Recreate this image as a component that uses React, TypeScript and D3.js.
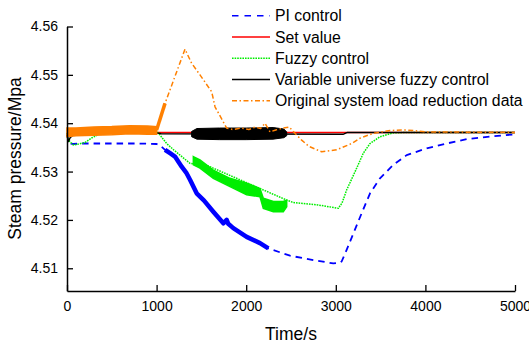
import React, { useEffect, useRef } from "react";
import * as d3 from "d3";

// ---- data (time s, pressure MPa) ----
const X_TICKS = [0, 1000, 2000, 3000, 4000, 5000];
const Y_TICKS = [4.51, 4.52, 4.53, 4.54, 4.55, 4.56];

const SET_VALUE: [number, number][] = [[0, 4.5381], [5000, 4.5381]];

const PI_LINE: [number, number][] = [
  [0, 4.538], [15, 4.5365], [40, 4.5358], [70, 4.5357], [150, 4.5358], [400, 4.5358], [800, 4.5358],
  [1000, 4.5357], [1040, 4.5354], [1094, 4.5345], [1205, 4.5331], [1280, 4.531], [1373, 4.5283],
  [1447, 4.5255], [1633, 4.5217], [1745, 4.5193], [1782, 4.52], [1800, 4.5192], [1856, 4.5183],
  [2005, 4.5165], [2154, 4.5152], [2247, 4.5141], [2489, 4.5126], [2749, 4.5117], [2972, 4.511],
  [3040, 4.5111], [3065, 4.5114], [3121, 4.5138], [3196, 4.5172], [3289, 4.5214], [3382, 4.5255],
  [3493, 4.5286], [3642, 4.5314], [3791, 4.5334], [4014, 4.5348], [4237, 4.5358], [4460, 4.5367],
  [4758, 4.5373], [5000, 4.5377],
];
const PI_BAND: [number, number][] = [
  [1094, 4.5345], [1150, 4.5338], [1205, 4.5331], [1280, 4.531], [1330, 4.5298], [1373, 4.5283],
  [1447, 4.5255], [1530, 4.5240], [1633, 4.5217], [1745, 4.5193], [1782, 4.52], [1800, 4.5192],
  [1856, 4.5183], [2005, 4.5165], [2154, 4.5152], [2247, 4.5141],
];

const FUZZY_LINE: [number, number][] = [
  [0, 4.538], [30, 4.5362], [70, 4.5355], [130, 4.5357], [200, 4.536], [280, 4.537], [368, 4.5378],
  [500, 4.5382], [1000, 4.5384], [1040, 4.5375], [1112, 4.5358], [1190, 4.5345], [1261, 4.5334],
  [1373, 4.5317], [1410, 4.5316], [1447, 4.5322], [2452, 4.5241], [2526, 4.5236], [2800, 4.5231],
  [3028, 4.5224], [3070, 4.5235], [3121, 4.5262], [3233, 4.5307], [3307, 4.5338], [3382, 4.5358],
  [3493, 4.5372], [3642, 4.538], [3800, 4.5381], [5000, 4.5381],
];
// [time, low, high]
const FUZZY_BAND: [number, number, number][] = [
  [1410, 4.5314, 4.5331], [1484, 4.5307, 4.5324], [1633, 4.5286, 4.5303], [1819, 4.5269, 4.5286],
  [2005, 4.5252, 4.5276], [2154, 4.5248, 4.5265], [2191, 4.5224, 4.5245], [2303, 4.5217, 4.5238],
  [2414, 4.5217, 4.5238], [2452, 4.5227, 4.5241],
];

const VU_LINE: [number, number][] = [
  [0, 4.5376], [15, 4.5362], [35, 4.537], [80, 4.5378], [120, 4.538], [1000, 4.538], [1050, 4.5378],
  [3080, 4.5377], [3130, 4.5381], [5000, 4.5381],
];
const VU_BAND: [number, number, number][] = [
  [1391, 4.5372, 4.5383], [1450, 4.5367, 4.5389], [1700, 4.5366, 4.539], [2000, 4.5366, 4.539],
  [2300, 4.5367, 4.5391], [2420, 4.537, 4.5388], [2452, 4.5374, 4.5382],
];

const ORIG_BAND: [number, number, number][] = [
  [0, 4.5372, 4.539], [100, 4.5374, 4.539], [300, 4.5375, 4.5392], [500, 4.5376, 4.5393],
  [700, 4.5378, 4.5395], [900, 4.5377, 4.5394], [1000, 4.5377, 4.5393],
];
const ORIG_RISE: [number, number][] = [[1000, 4.5386], [1094, 4.5441]];
const ORIG_LINE: [number, number][] = [
  [1000, 4.5386], [1094, 4.5441], [1317, 4.5553], [1391, 4.5524], [1484, 4.55], [1615, 4.5465],
  [1652, 4.5434], [1782, 4.539], [1850, 4.5387], [1950, 4.539], [2030, 4.5387], [2100, 4.5392],
  [2160, 4.5389], [2210, 4.54], [2266, 4.5382], [2330, 4.5386], [2414, 4.539], [2480, 4.5392],
  [2540, 4.538], [2619, 4.5365], [2700, 4.5352], [2842, 4.5341], [3009, 4.5345], [3177, 4.5358],
  [3270, 4.5369], [3418, 4.5379], [3605, 4.5385], [3791, 4.5386], [4014, 4.5382], [5000, 4.5381],
];

const LEGEND = [
  { name: "PI control", color: "#0000ff", dash: "6.5,6" },
  { name: "Set value", color: "#ff0000", dash: null },
  { name: "Fuzzy control", color: "#00ee00", dash: "1.6,1" },
  { name: "Variable universe fuzzy control", color: "#000000", dash: null },
  { name: "Original system load reduction data", color: "#ff8000", dash: "5,2.5,1.5,2.5" },
];

const FONT = "'Liberation Sans', Arial, sans-serif";

export default function App() {
  const ref = useRef<SVGSVGElement>(null);
  useEffect(() => {
    const svg = d3.select(ref.current);
    svg.selectAll("*").remove();
    const x = d3.scaleLinear().domain([0, 5000]).range([67, 515]);
    const y = d3.scaleLinear().domain([4.5053, 4.56]).range([291, 26.5]);
    const line = d3.line<[number, number]>().x((d) => x(d[0])).y((d) => y(d[1]));
    const area = d3
      .area<[number, number, number]>()
      .x((d) => x(d[0]))
      .y0((d) => y(d[1]))
      .y1((d) => y(d[2]));

    const g = svg.append("g");
    const path = (data: any, color: string, w: number, dash: string | null) =>
      g.append("path").attr("d", line(data)).attr("fill", "none").attr("stroke", color)
        .attr("stroke-width", w).attr("stroke-dasharray", dash ?? null).attr("stroke-linejoin", "round");

    // set value
    path(SET_VALUE, "#ff0000", 1.5, null);
    // PI
    path(PI_LINE, "#0000ff", 1.8, "6.5,5");
    path(PI_BAND, "#0000ff", 4.5, null);
    // fuzzy
    path(FUZZY_LINE, "#00ee00", 1.5, "1.6,1");
    g.append("path").attr("d", area(FUZZY_BAND)).attr("fill", "#00ee00").attr("stroke", "#00ee00").attr("stroke-width", 1.5);
    // variable universe
    path(VU_LINE, "#000000", 1.5, null);
    g.append("path").attr("d", area(VU_BAND)).attr("fill", "#000").attr("stroke", "#000").attr("stroke-width", 1);
    // original
    g.append("path").attr("d", area(ORIG_BAND)).attr("fill", "#ff8000").attr("stroke", "#ff8000").attr("stroke-width", 1.5);
    path(ORIG_RISE, "#ff8000", 3.5, null);
    path(ORIG_LINE, "#ff8000", 1.5, "5,2.5,1.5,2.5");

    // axes
    const ax = svg.append("g").attr("transform", "translate(0,291)")
      .call(d3.axisBottom(x).tickValues(X_TICKS).tickFormat(d3.format("d")).tickSizeInner(-6).tickSizeOuter(0).tickPadding(10));
    const ay = svg.append("g").attr("transform", "translate(67,0)")
      .call(d3.axisLeft(y).tickValues(Y_TICKS).tickFormat(d3.format(".2f")).tickSizeInner(-6).tickSizeOuter(0).tickPadding(9));
    [ax, ay].forEach((a) => {
      a.selectAll("path.domain").attr("stroke", "#000").attr("stroke-width", 1.5);
      a.selectAll("line").attr("stroke", "#000").attr("stroke-width", 1.3);
      a.selectAll("text").attr("font-family", FONT).attr("font-size", 14).attr("fill", "#000");
    });

    svg.append("text").attr("x", 291).attr("y", 340).attr("text-anchor", "middle")
      .attr("font-family", FONT).attr("font-size", 17.5).text("Time/s");
    svg.append("text").attr("transform", "translate(21,158.5) rotate(-90)").attr("text-anchor", "middle")
      .attr("font-family", FONT).attr("font-size", 17.5).text("Steam pressure/Mpa");

    // legend
    const rowY = d3.scaleLinear().domain([0, 4]).range([15.7, 100.7]);
    LEGEND.forEach((l, i) => {
      const yy = rowY(i);
      svg.append("line").attr("x1", 232).attr("x2", 270).attr("y1", yy).attr("y2", yy)
        .attr("stroke", l.color).attr("stroke-width", 1.5).attr("stroke-dasharray", l.dash ?? null);
      svg.append("text").attr("x", 275).attr("y", yy + 5.7).attr("font-family", FONT)
        .attr("font-size", 15.8).attr("fill", "#000").text(l.name);
    });
  }, []);
  return (
    <svg ref={ref} width={529} height={344}
      style={{ position: "absolute", left: 0, top: 0, background: "#fff" }} />
  );
}
